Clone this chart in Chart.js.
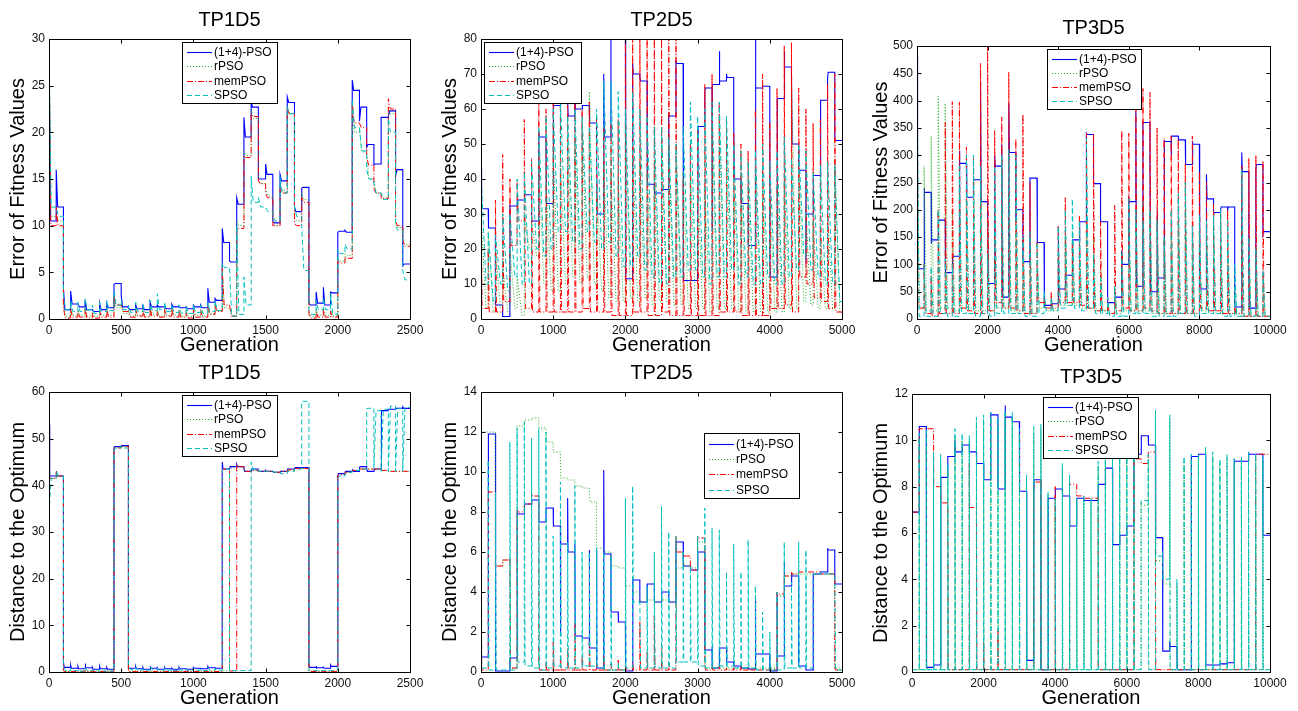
<!DOCTYPE html>
<html>
<head>
<meta charset="utf-8">
<script src="https://cdn.jsdelivr.net/npm/chart.js@4.4.0/dist/chart.umd.min.js"></script>
<style>
  body { margin: 0; background: #fff; width: 1298px; height: 711px; overflow: hidden; position: relative; }
  canvas { position: absolute; }
</style>
</head>
<body>
<canvas id="c1"></canvas><canvas id="c2"></canvas><canvas id="c3"></canvas>
<canvas id="c4"></canvas><canvas id="c5"></canvas><canvas id="c6"></canvas>
<script>
// series order: (1+4)-PSO, rPSO, memPSO, SPSO
const seriesNames = ["(1+4)-PSO", "rPSO", "memPSO", "SPSO"];

// environment change period (generations) for each test problem
const tp1Period = 50, tp2Period = 100, tp3Period = 200;

// tick labels
const tp1GenTicks = [0, 500, 1000, 1500, 2000, 2500];
const tp2GenTicks = [0, 1000, 2000, 3000, 4000, 5000];
const tp3GenTicks = [0, 2000, 4000, 6000, 8000, 10000];
const err1Ticks = [0, 5, 10, 15, 20, 25, 30];
const err2Ticks = [0, 10, 20, 30, 40, 50, 60, 70, 80];
const err3Ticks = [0, 50, 100, 150, 200, 250, 300, 350, 400, 450, 500];
const dist1Ticks = [0, 10, 20, 30, 40, 50, 60];
const dist2Ticks = [0, 2, 4, 6, 8, 10, 12, 14];
const dist3Ticks = [0, 2, 4, 6, 8, 10, 12];

// value at the start and at the end of each of the 50 environments

// ---- TP1D5 error ----
const err1Pso = [30, 16, 3.3, 3.0, 1.6, 2.0, 1.0, 1.7, 1.7, 3.7,
  2.5, 1.2, 1.5, 1.4, 1.8, 1.5, 1.4, 1.6, 1.4, 1.3,
  1.5, 1.5, 3.3, 2.2, 9.7, 6.2, 13.0, 21.6, 23.2, 15.0,
  16.6, 10.5, 15.5, 23.8, 12.0, 14.0, 1.7, 2.9, 3.4, 2.9,
  9.3, 9.5, 25.6, 21.2, 18.4, 16.5, 21.6, 21.7, 15.3, 5.7];
const err1PsoEnd = [10.5, 12, 1.0, 1.6, 1.3, 1.0, 0.8, 1.0, 1.2, 3.8,
  1.3, 1.0, 1.1, 1.0, 1.3, 1.3, 1.1, 1.3, 1.2, 1.1,
  1.3, 1.2, 1.8, 2.0, 8.2, 6.1, 12.3, 19.5, 22.7, 15.0,
  15.5, 10.3, 14.8, 23.2, 11.5, 14.1, 1.5, 1.7, 1.5, 2.8,
  9.4, 9.3, 24.5, 22.7, 18.7, 16.6, 21.6, 22.3, 16.0, 5.9];
const err1R = [29, 11, 1.5, 1.2, 1.0, 1.3, 0.8, 1.1, 1.2, 2.2,
  1.6, 1.0, 1.2, 1.1, 1.4, 1.0, 1.2, 1.3, 1.0, 0.9,
  1.1, 1.0, 1.5, 1.8, 5.0, 1.2, 10.5, 18.0, 22.5, 15.0,
  14.0, 10.5, 14.5, 22.8, 10.8, 13.5, 0.8, 1.0, 1.2, 1.0,
  6.5, 7.0, 22.8, 20.5, 17.8, 15.0, 13.5, 22.5, 10.2, 8.5];
const err1REnd = [11, 10.5, 0.3, 0.4, 0.4, 0.3, 0.3, 0.4, 0.4, 1.2,
  0.6, 0.3, 0.4, 0.3, 0.5, 0.3, 0.4, 0.4, 0.3, 0.3,
  0.4, 0.3, 0.6, 0.9, 1.2, 0.4, 10.0, 17.5, 21.5, 14.5,
  13.2, 10.0, 13.8, 22.0, 10.5, 12.8, 0.3, 0.4, 0.4, 0.3,
  6.2, 6.8, 20.0, 18.0, 15.0, 13.5, 13.0, 22.0, 9.8, 8.0];
const err1Mem = [30, 12, 1.2, 1.0, 0.8, 1.2, 0.6, 0.9, 1.0, 2.5,
  1.5, 0.8, 1.0, 0.9, 1.2, 0.8, 1.0, 1.1, 0.9, 0.8,
  1.0, 0.9, 1.2, 1.5, 5.5, 1.5, 9.8, 17.5, 22.0, 14.8,
  13.5, 10.0, 14.0, 22.5, 10.3, 13.0, 0.5, 0.8, 1.0, 0.8,
  6.2, 6.7, 23.3, 21.0, 17.5, 14.0, 12.9, 23.6, 10.5, 8.5];
const err1MemEnd = [10, 10, 0.1, 0.2, 0.2, 0.1, 0.1, 0.2, 0.2, 1.5,
  0.8, 0.2, 0.3, 0.2, 0.3, 0.2, 0.3, 0.2, 0.2, 0.1,
  0.2, 0.2, 0.5, 0.8, 1.5, 0.3, 9.7, 17.3, 21.7, 14.5,
  13.0, 10.0, 13.5, 22.0, 10.0, 12.5, 0.1, 0.2, 0.2, 0.2,
  6.0, 6.5, 21.0, 20.5, 16.5, 13.5, 12.9, 22.5, 10.0, 7.8];
const err1S = [30, 12, 2.5, 2.0, 1.8, 2.2, 1.5, 1.8, 2.0, 3.0,
  2.0, 1.5, 1.8, 1.6, 2.0, 2.7, 1.8, 1.6, 1.5, 1.4,
  1.6, 1.5, 1.8, 2.0, 6.0, 5.5, 10.0, 4.5, 15.3, 13.0,
  12.0, 11.0, 15.3, 22.7, 12.0, 10.0, 1.0, 2.0, 2.3, 2.8,
  7.5, 8.0, 23.5, 20.5, 16.0, 14.5, 13.5, 21.5, 10.0, 5.2];
const err1SEnd = [12, 11, 1.0, 0.8, 0.8, 1.0, 0.6, 0.8, 0.9, 1.5,
  1.0, 0.7, 0.8, 0.7, 0.9, 1.0, 0.8, 0.7, 0.6, 0.6,
  0.7, 0.6, 0.8, 0.9, 5.5, 0.3, 0.5, 1.5, 12.5, 12.0,
  11.5, 10.5, 13.5, 22.0, 11.0, 5.2, 0.5, 1.0, 1.0, 0.5,
  7.0, 7.5, 20.5, 18.0, 15.0, 13.5, 12.8, 20.0, 9.5, 4.2];

// ---- TP2D5 error ----
const err2Pso = [43, 26.5, 4, 0.7, 32.5, 32.5, 36, 28, 53.5, 49,
  60, 63, 62, 66, 61, 58, 47, 70, 85, 85,
  12, 73, 69, 41, 38, 36.5, 59, 74, 55, 11,
  28, 65, 25, 76.5, 70, 57, 36, 21, 80, 66.5,
  18, 12, 76.5, 70, 43, 16, 41, 62.5, 68.5, 51];
const err2PsoEnd = [31.5, 26, 4, 0.7, 32.3, 34, 35.5, 28, 52, 33,
  61, 62, 58, 60, 61, 56, 30, 52, 85, 85,
  11.5, 70, 68, 38.5, 36, 37, 58, 73, 11, 11,
  55, 66, 67, 68, 69, 40, 33, 21, 66, 66.5,
  12, 63, 72, 50, 42.5, 30, 41, 62.5, 70.5, 51];
const err2R = [30, 25, 20, 15, 20, 12, 30, 28, 45, 40,
  48, 45, 50, 52, 55, 65, 40, 45, 42, 40,
  55, 50, 45, 42, 45, 52, 50, 48, 42, 45,
  40, 38, 55, 58, 50, 42, 40, 38, 42, 40,
  35, 38, 40, 68, 45, 30, 28, 25, 30, 45];
const err2REnd = [3, 2, 3, 2, 3, 1, 20, 18, 10, 8,
  8, 10, 12, 10, 12, 10, 8, 6, 5, 5,
  6, 5, 6, 4, 5, 5, 4, 4, 3, 3,
  3, 2, 3, 3, 3, 2, 2, 2, 2, 2,
  2, 2, 3, 3, 5, 4, 3, 3, 3, 2];
const err2Mem = [40, 20, 34, 47, 40, 39.5, 57, 46, 62, 60,
  63, 62, 61, 62, 60, 62, 58, 55, 56, 57,
  85, 85, 85, 85, 85, 85, 85, 85, 40, 50,
  54, 67, 70, 62, 57, 53, 50, 48, 60, 70,
  56, 66, 78, 79, 66, 60, 56, 57, 67, 70];
const err2MemEnd = [3, 2, 2, 5, 21, 28, 3, 2, 2, 2,
  2, 2, 2, 2, 3, 2, 2, 2, 1, 1,
  1, 2, 2, 1, 1, 2, 1, 1, 1, 1,
  1, 1, 1, 2, 2, 2, 1, 1, 1, 1,
  3, 3, 4, 2, 12, 10, 6, 5, 3, 2];
const err2S = [42, 25, 24, 30, 30, 40, 42, 45, 55, 58,
  60, 62, 58, 60, 58, 55, 60, 68, 68, 65,
  60, 65, 60, 58, 55, 55, 52, 50, 55, 62,
  58, 60, 62, 62, 58, 50, 48, 45, 48, 50,
  45, 48, 52, 46, 50, 48, 42, 44, 45, 44];
const err2SEnd = [10, 5, 10, 8, 12, 10, 10, 20, 18, 20,
  25, 25, 22, 20, 25, 22, 20, 22, 18, 15,
  15, 18, 14, 12, 10, 10, 12, 12, 14, 14,
  12, 10, 12, 12, 14, 10, 12, 10, 10, 12,
  10, 10, 12, 14, 18, 14, 12, 10, 10, 5];

// ---- TP3D5 error ----
const err3Pso = [480, 240, 138, 183, 85, 115, 308, 285, 255, 435,
  210, 300, 320, 395, 180, 110, 258, 140, 20, 28,
  165, 70, 145, 178, 340, 248, 178, 30, 40, 125,
  220, 380, 360, 285, 200, 328, 300, 328, 283, 325,
  90, 265, 190, 200, 200, 25, 305, 80, 275, 155];
const err3PsoEnd = [92, 232, 145, 181, 85, 115, 285, 223, 255, 215,
  65, 280, 40, 305, 200, 105, 258, 140, 25, 28,
  55, 80, 145, 178, 338, 248, 178, 30, 40, 100,
  215, 60, 360, 50, 75, 325, 335, 328, 283, 320,
  55, 220, 195, 205, 205, 22, 270, 20, 283, 160];
const err3R = [350, 280, 335, 408, 395, 200, 250, 220, 200, 250,
  180, 150, 200, 220, 180, 120, 100, 90, 40, 40,
  120, 150, 160, 140, 200, 150, 100, 30, 60, 100,
  180, 200, 220, 200, 180, 150, 160, 180, 200, 150,
  160, 150, 140, 130, 120, 60, 150, 100, 120, 80];
const err3REnd = [20, 15, 15, 20, 20, 15, 20, 20, 15, 15,
  15, 20, 20, 15, 15, 10, 10, 20, 15, 15,
  25, 25, 25, 20, 20, 15, 15, 10, 10, 15,
  15, 15, 15, 10, 10, 10, 10, 10, 10, 10,
  15, 10, 10, 10, 10, 5, 5, 5, 5, 5];
const err3Mem = [500, 100, 80, 200, 360, 398, 397, 315, 300, 468,
  500, 345, 370, 452, 330, 375, 250, 140, 40, 50,
  170, 222, 140, 190, 340, 340, 178, 40, 208, 345,
  340, 405, 422, 415, 350, 330, 335, 330, 285, 335,
  270, 250, 210, 200, 200, 25, 280, 295, 300, 290];
const err3MemEnd = [20, 10, 5, 10, 10, 10, 20, 15, 10, 10,
  15, 30, 20, 20, 15, 10, 10, 30, 20, 20,
  30, 30, 30, 25, 20, 15, 15, 10, 15, 20,
  15, 15, 20, 15, 10, 10, 10, 10, 10, 10,
  20, 15, 15, 10, 10, 10, 5, 5, 5, 5];
const err3S = [480, 100, 95, 200, 110, 100, 280, 300, 300, 280,
  120, 280, 300, 310, 300, 150, 160, 140, 50, 40,
  170, 200, 220, 180, 330, 120, 80, 40, 60, 120,
  220, 200, 180, 200, 180, 150, 200, 230, 250, 170,
  190, 180, 190, 200, 180, 100, 275, 150, 130, 90];
const err3SEnd = [5, 5, 5, 10, 5, 5, 10, 10, 5, 10,
  5, 10, 10, 10, 10, 5, 5, 10, 15, 15,
  20, 25, 20, 15, 20, 10, 10, 5, 5, 5,
  10, 10, 10, 5, 5, 5, 5, 10, 10, 5,
  10, 10, 10, 5, 5, 5, 5, 5, 5, 5];

// ---- TP1D5 distance ----
const dist1Pso = [53, 43, 2.2, 1.5, 1.2, 1.8, 1.0, 1.2, 1.0, 48,
  48.7, 1.0, 1.2, 1.0, 1.3, 0.9, 1.0, 0.8, 1.0, 0.7,
  1.0, 0.8, 1.2, 1.0, 45, 43.5, 44.5, 43.5, 43, 43,
  43.2, 43, 42.8, 43, 43.5, 43.8, 1.5, 1.3, 1.0, 1.5,
  42, 43, 43.5, 43.8, 43.5, 43, 56, 56.3, 56.5, 56.8];
const dist1PsoEnd = [42, 42, 1.0, 0.8, 0.7, 0.9, 0.6, 0.7, 0.6, 48.3,
  48.5, 0.8, 0.7, 0.6, 0.8, 0.6, 0.7, 0.6, 0.7, 0.6,
  0.8, 0.7, 0.9, 0.8, 43.5, 44, 44, 43, 43.5, 43,
  43, 42.8, 43, 43.5, 43.8, 43.8, 1.0, 0.9, 0.8, 1.2,
  42.5, 43, 43, 44, 43, 43.5, 56, 56.3, 56.5, 56.5];
const dist1R = [46, 43, 0.4, 0.3, 0.3, 0.4, 0.3, 0.3, 0.3, 48,
  48.4, 0.3, 0.3, 0.3, 0.3, 0.3, 0.3, 0.3, 0.3, 0.3,
  0.3, 0.3, 0.3, 0.3, 0.3, 43.7, 44.3, 43.5, 43, 43,
  43.2, 43, 42.8, 43, 43.5, 43.8, 0.3, 0.3, 0.3, 0.3,
  41.8, 42.8, 43.2, 43.5, 43.5, 43.5, 43.2, 43, 43, 43];
const dist1REnd = [41.5, 42, 0.2, 0.2, 0.2, 0.2, 0.2, 0.2, 0.2, 48.2,
  48.3, 0.2, 0.2, 0.2, 0.2, 0.2, 0.2, 0.2, 0.2, 0.2,
  0.2, 0.2, 0.2, 0.2, 0.3, 43.7, 44, 43, 43.2, 43,
  43, 42.8, 43, 43.3, 43.6, 43.6, 0.2, 0.2, 0.2, 0.2,
  42.3, 42.8, 43.2, 43.5, 43.5, 43.5, 43.2, 43, 43, 43];
const dist1Mem = [47, 43, 0.3, 0.2, 0.2, 0.3, 0.2, 0.2, 0.2, 48,
  48.5, 0.2, 0.2, 0.2, 0.2, 0.2, 0.2, 0.2, 0.2, 0.2,
  0.2, 0.2, 0.2, 0.2, 43.5, 0.3, 44.5, 43.5, 43, 43,
  43.2, 43, 42.8, 43, 43.5, 43.8, 0.2, 0.2, 0.2, 0.2,
  41.8, 42.8, 43.2, 43.5, 43.5, 43.5, 43.2, 43, 43, 43];
const dist1MemEnd = [41.5, 42, 0.1, 0.1, 0.1, 0.1, 0.1, 0.1, 0.1, 48,
  48.3, 0.1, 0.1, 0.1, 0.1, 0.1, 0.1, 0.1, 0.1, 0.1,
  0.1, 0.1, 0.1, 0.1, 43.5, 0.2, 44, 43, 43.2, 43,
  43, 42.8, 43, 43.3, 43.6, 43.6, 0.1, 0.1, 0.1, 0.1,
  42.3, 42.8, 43.2, 43.5, 43.5, 43.5, 43.2, 43, 43, 43];
const dist1S = [34, 43, 1.0, 0.8, 0.6, 0.9, 0.5, 0.6, 0.5, 47.5,
  48.5, 1.2, 1.0, 0.8, 1.2, 0.8, 0.9, 0.7, 0.8, 0.6,
  0.9, 0.7, 1.0, 0.8, 43.5, 0.3, 0.3, 0.3, 45, 43,
  43, 43, 42.5, 43, 43.5, 58, 0.3, 0.3, 0.3, 0.3,
  41.5, 42.5, 43, 43.5, 56.5, 43.5, 43, 43, 43, 43];
const dist1SEnd = [41.5, 42, 0.3, 0.3, 0.2, 0.3, 0.2, 0.2, 0.2, 48,
  48, 0.5, 0.4, 0.4, 0.5, 0.4, 0.4, 0.3, 0.4, 0.3,
  0.4, 0.3, 0.4, 0.4, 43.5, 0.3, 0.3, 0.3, 43.5, 43,
  43, 42.8, 42.5, 43, 43.5, 58, 0.3, 0.3, 0.3, 0.3,
  42, 42.8, 43.2, 43.5, 56.5, 56, 56.3, 57, 56.5, 56.7];

// ---- TP2D5 distance ----
const dist2Pso = [4, 11.9, 0.05, 0.05, 0.7, 8.1, 8.4, 8.6, 7.6, 8.2,
  7.3, 1.8, 8.7, 6.4, 1.7, 6.1, 6.1, 10.1, 3.1, 2.5,
  0.05, 4.7, 3.5, 4.4, 3.5, 4.0, 3.5, 6.0, 6.0, 5.2,
  6.0, 1.1, 1.3, 1.2, 0.7, 0.3, 0.2, 0.15, 3.7, 0.9,
  0.05, 4.0, 5.5, 4.9, 0.35, 0.1, 4.9, 5.0, 6.2, 4.4];
const dist2PsoEnd = [0.75, 11.9, 0.05, 0.05, 0.7, 7.9, 8.4, 8.6, 7.5, 8.2,
  7.3, 6.4, 6.0, 1.8, 1.7, 1.2, 0.2, 5.9, 3.0, 2.5,
  0.05, 4.6, 3.5, 4.4, 3.5, 4.0, 3.5, 6.5, 5.3, 5.1,
  6.0, 1.1, 0.2, 1.2, 0.5, 0.3, 0.2, 0.15, 0.9, 0.9,
  0.05, 0.8, 4.3, 4.8, 0.3, 0.1, 4.9, 5.0, 6.1, 4.4];
const dist2R = [12.2, 12, 5.3, 5.6, 0.3, 12.3, 12.6, 12.7, 12.3, 12,
  11, 9.7, 9.6, 9.3, 9.2, 9, 6.3, 6, 5.5, 5.2,
  4.5, 4.2, 3.5, 3.8, 3.6, 3.8, 3.5, 5.2, 6.0, 5.3,
  6.5, 0.3, 0.3, 0.3, 0.3, 0.3, 0.3, 0.3, 0.3, 0.3,
  0.3, 3.8, 4.5, 4.9, 4.9, 4.9, 4.9, 4.9, 4.9, 0.3];
const dist2REnd = [12, 12, 5.3, 5.6, 0.2, 12.3, 12.6, 12.7, 12.2, 11.5,
  11, 9.7, 9.6, 9.3, 9.2, 8.5, 6.2, 6, 5.3, 5.2,
  4.3, 4, 3.5, 3.6, 3.5, 3.6, 3.5, 5.2, 5.3, 5.2,
  6.5, 0.2, 0.2, 0.2, 0.2, 0.2, 0.2, 0.2, 0.2, 0.2,
  0.2, 3.8, 4.8, 4.9, 4.9, 4.9, 4.9, 4.9, 4.9, 0.2];
const dist2Mem = [5.8, 9.0, 5.2, 5.6, 5.7, 8.2, 8.4, 9.0, 0.3, 0.5,
  1.5, 0.8, 1.2, 2.5, 0.8, 1.5, 0.5, 0.8, 0.4, 0.6,
  0.3, 0.5, 2.5, 1.0, 2.8, 1.5, 0.5, 6.8, 6.0, 5.3,
  6.8, 0.3, 0.2, 0.3, 0.2, 0.2, 0.3, 0.2, 0.2, 0.2,
  0.2, 4.0, 4.9, 5.0, 5.0, 5.0, 5.0, 5.0, 4.9, 0.2];
const dist2MemEnd = [0.1, 9.0, 5.3, 5.6, 0.2, 8.0, 8.4, 8.8, 0.1, 0.1,
  0.1, 0.1, 0.1, 0.1, 0.1, 0.1, 0.1, 0.1, 0.1, 0.1,
  0.1, 0.1, 0.1, 0.1, 0.1, 0.1, 0.1, 6.0, 5.8, 5.1,
  6.7, 0.1, 0.1, 0.1, 0.1, 0.1, 0.1, 0.1, 0.1, 0.1,
  0.1, 3.9, 4.8, 4.9, 5.0, 5.0, 5.0, 4.9, 4.9, 0.1];
const dist2S = [13, 10.6, 9, 0.1, 11.5, 12.2, 12.5, 11.7, 12.2, 12,
  6.8, 9.5, 6.5, 9.3, 6, 6, 6.2, 6, 5.8, 0.5,
  8.7, 9.3, 3.5, 4.3, 6, 8.3, 7, 6.8, 6, 5.3,
  6.8, 8.2, 7.2, 7.1, 5, 6.4, 5, 6.6, 4.3, 3,
  2, 4, 6.5, 4.5, 6.5, 6.1, 4.9, 5, 5, 4.9];
const dist2SEnd = [0.2, 0.1, 0.1, 0.1, 0.1, 0.5, 0.3, 0.2, 0.1, 0.2,
  0.3, 0.2, 0.2, 0.2, 0.3, 0.3, 0.2, 0.1, 0.1, 0.1,
  0.2, 3.5, 0.2, 0.2, 0.2, 0.2, 0.2, 0.5, 0.5, 0.5,
  0.3, 0.2, 0.2, 0.3, 0.3, 0.2, 0.2, 0.2, 0.1, 0.1,
  0.1, 0.1, 0.2, 0.2, 0.2, 0.2, 4.9, 4.9, 4.9, 0.1];

// ---- TP3D5 distance ----
const dist3Pso = [0.1, 10.6, 0.2, 0.3, 8.4, 9.3, 10.0, 9.8, 9.5, 9.1,
  8.3, 11.2, 8.0, 11.5, 10.8, 7.8, 0.5, 7.7, 0.1, 7.5,
  7.9, 7.6, 6.3, 7.5, 7.5, 7.4, 8.1, 8.8, 5.5, 5.9,
  6.3, 9.4, 9.9, 9.8, 5.8, 0.9, 1.3, 1.1, 0.1, 9.3,
  9.4, 0.4, 0.3, 0.35, 0.4, 9.2, 9.1, 9.5, 9.4, 6.0];
const dist3PsoEnd = [6.9, 10.6, 0.2, 0.3, 8.4, 9.3, 9.5, 9.8, 9.5, 9.0,
  8.3, 11.1, 7.9, 11.0, 10.8, 7.8, 0.5, 8.3, 0.1, 7.5,
  7.9, 7.6, 6.3, 7.5, 7.4, 7.4, 8.1, 8.8, 5.5, 5.9,
  6.3, 9.4, 10.2, 9.8, 5.8, 0.9, 1.1, 0.1, 0.1, 9.3,
  9.4, 0.3, 0.3, 0.35, 0.4, 9.1, 9.1, 9.4, 9.4, 5.9];
const dist3R = [11, 10, 10.2, 9.2, 9.0, 8.8, 10.2, 10, 10, 10.8,
  10.9, 11, 10.8, 11.1, 11, 10.3, 8.2, 10.3, 10.5, 7.6,
  7.4, 8.8, 8.3, 7.4, 7.5, 7.4, 8.9, 9.5, 9.3, 9.6,
  9.6, 9.3, 7.3, 9.2, 11.1, 5.0, 10.9, 3.8, 9.1, 9.2,
  9.2, 9.5, 9.3, 9.0, 9.2, 9.0, 9.1, 9.3, 9.2, 9.1];
const dist3REnd = [0.1, 0.1, 0.1, 0.1, 0.1, 0.1, 0.1, 0.1, 0.1, 0.1,
  0.1, 0.1, 0.1, 0.1, 0.1, 0.1, 0.1, 0.1, 0.1, 0.1,
  0.1, 0.1, 0.1, 0.1, 0.1, 0.1, 0.1, 0.1, 0.1, 0.1,
  0.1, 0.1, 7.2, 0.1, 4.8, 3.8, 0.1, 0.1, 0.1, 0.1,
  0.1, 0.1, 0.1, 0.1, 0.1, 0.1, 0.1, 0.1, 0.1, 0.1];
const dist3Mem = [6.9, 10.5, 10.5, 10.4, 7.9, 7.3, 0.2, 0.2, 9.0, 7.1,
  1.3, 0.2, 1.8, 0.2, 0.2, 0.2, 0.2, 8.2, 8.3, 0.2,
  8.0, 0.2, 8.1, 7.6, 7.5, 7.5, 0.2, 0.2, 0.2, 0.2,
  0.2, 9.2, 9.2, 9.5, 3.8, 0.1, 0.1, 0.1, 0.1, 0.1,
  0.1, 0.1, 0.1, 0.1, 0.1, 0.1, 0.1, 0.1, 9.4, 9.4];
const dist3MemEnd = [6.9, 10.5, 10.5, 8.0, 7.3, 0.1, 0.1, 0.1, 7.1, 0.1,
  0.1, 0.1, 0.1, 0.1, 0.1, 0.1, 0.1, 8.2, 0.1, 0.1,
  0.1, 0.1, 8.1, 7.6, 7.5, 7.5, 0.1, 0.1, 0.1, 0.1,
  0.1, 9.2, 9.0, 9.5, 0.1, 0.1, 0.1, 0.1, 0.1, 0.1,
  0.1, 0.1, 0.1, 0.1, 0.1, 0.1, 0.1, 0.1, 9.4, 9.4];
const dist3S = [11.5, 10.3, 10.5, 9.5, 9.4, 9.0, 10.5, 10.3, 10.2, 11.0,
  11.1, 11.2, 11.0, 11.3, 11.2, 10.5, 8.5, 10.6, 10.7, 7.8,
  7.5, 9.0, 8.5, 7.5, 7.6, 7.5, 9.1, 9.7, 9.5, 9.8,
  9.8, 9.5, 7.4, 9.4, 11.3, 5.2, 11.1, 4.0, 9.3, 9.4,
  9.4, 9.7, 9.5, 9.2, 9.4, 9.2, 9.3, 9.5, 9.4, 9.3];
const dist3SEnd = [0.1, 0.1, 0.1, 0.1, 0.1, 0.1, 0.1, 0.1, 0.1, 0.1,
  0.1, 0.1, 0.1, 0.1, 0.1, 0.1, 0.1, 0.1, 0.1, 0.1,
  0.1, 0.1, 0.1, 0.1, 0.1, 0.1, 0.1, 0.1, 0.1, 0.1,
  0.1, 0.1, 7.4, 0.1, 5.0, 4.0, 0.1, 0.1, 0.1, 0.1,
  0.1, 0.1, 0.1, 0.1, 0.1, 0.1, 0.1, 0.1, 0.1, 0.1];

// line styles, same order as seriesNames; later series are drawn on top
const lineStyles = [
  { color: "#0000ff", dash: [], width: 1.1, order: 3 },
  { color: "#22aa22", dash: [1, 2], width: 1, order: 2 },
  { color: "#ff0000", dash: [6, 2, 1, 2], width: 1, order: 1 },
  { color: "#00bfbf", dash: [5, 3], width: 1, order: 0 }
];

const FONT = '"Liberation Sans", Arial, Helvetica, sans-serif';

// each environment: start value, fast settle to the end value, hold
function envPoints(period, start, end, settle) {
  const pts = [];
  start.forEach((v, k) => {
    const t0 = k * period;
    pts.push({ x: t0, y: v });
    pts.push({ x: t0 + settle * period, y: end[k] });
    pts.push({ x: t0 + period, y: end[k] });
  });
  return pts;
}

const framePlugin = {
  id: "frame",
  afterDatasetsDraw(chart, args, opts) {
    const { ctx, chartArea: a } = chart;
    const xs = chart.scales.x, ys = chart.scales.y;
    ctx.save();
    ctx.strokeStyle = "#000";
    ctx.lineWidth = 1;
    ctx.setLineDash([]);
    const L = Math.round(a.left) + 0.5, R = Math.round(a.right) + 0.5;
    const T = Math.round(a.top) + 0.5, B = Math.round(a.bottom) + 0.5;
    ctx.strokeRect(L, T, R - L, B - T);
    ctx.beginPath();
    xs.ticks.forEach(t => {
      const p = Math.round(xs.getPixelForValue(t.value)) + 0.5;
      ctx.moveTo(p, B); ctx.lineTo(p, B - 4);
      ctx.moveTo(p, T); ctx.lineTo(p, T + 4);
    });
    ys.ticks.forEach(t => {
      const p = Math.round(ys.getPixelForValue(t.value)) + 0.5;
      ctx.moveTo(L, p); ctx.lineTo(L + 4, p);
      ctx.moveTo(R, p); ctx.lineTo(R - 4, p);
    });
    ctx.stroke();

    // title
    ctx.fillStyle = "#000";
    ctx.font = "20px " + FONT;
    ctx.textAlign = "center";
    ctx.textBaseline = "middle";
    ctx.fillText(opts.title, (a.left + a.right) / 2, opts.titleY);

    // legend box
    const [bx, by, bw, bh] = opts.box;
    ctx.fillStyle = "#fff";
    ctx.fillRect(bx, by, bw, bh);
    ctx.strokeStyle = "#000";
    ctx.strokeRect(bx + 0.5, by + 0.5, bw, bh);
    ctx.font = "12px " + FONT;
    ctx.textAlign = "left";
    seriesNames.forEach((name, i) => {
      const st = lineStyles[i];
      const yy = Math.round(by + bh * (0.165 + i * 0.235)) + 0.5;
      ctx.beginPath();
      ctx.strokeStyle = st.color;
      ctx.lineWidth = st.width;
      ctx.setLineDash(st.dash);
      ctx.moveTo(bx + 5, yy);
      ctx.lineTo(bx + 30, yy);
      ctx.stroke();
      ctx.fillStyle = "#000";
      ctx.fillText(name, bx + 32, yy);
    });
    ctx.restore();
  }
};

function makePanel(p) {
  const cv = document.getElementById(p.id);
  cv.width = p.w; cv.height = p.h;
  cv.style.left = p.left + "px"; cv.style.top = p.top + "px";
  const [pl, pt, pr, pb] = p.plot;

  const datasets = p.series.map((s, i) => ({
    label: seriesNames[i],
    data: envPoints(p.period, s[0], s[1], p.settle[i]),
    borderColor: lineStyles[i].color,
    borderWidth: lineStyles[i].width,
    borderDash: lineStyles[i].dash,
    order: lineStyles[i].order,
    pointRadius: 0,
    fill: false,
    tension: 0
  }));

  new Chart(cv, {
    type: "line",
    data: { datasets },
    options: {
      responsive: false,
      animation: false,
      devicePixelRatio: 1,
      events: [],
      layout: { padding: { top: pt, right: p.w - pr, left: 0, bottom: 0 } },
      plugins: {
        legend: { display: false },
        tooltip: { enabled: false },
        frame: { title: p.title, titleY: p.titleY, box: p.box }
      },
      scales: {
        x: {
          type: "linear",
          min: 0, max: p.xTicks[p.xTicks.length - 1],
          grid: { display: false, drawTicks: false },
          border: { display: false },
          afterBuildTicks: s => { s.ticks = p.xTicks.map(v => ({ value: v })); },
          afterFit: s => { s.height = p.h - pb; },
          ticks: { autoSkip: false, maxRotation: 0, padding: 4, color: "#111",
                   font: { size: 12, family: FONT }, callback: v => String(v) },
          title: { display: true, text: "Generation", color: "#000",
                   font: { size: 20, family: FONT }, padding: { top: 0, bottom: p.xTitlePad } }
        },
        y: {
          type: "linear",
          min: 0, max: p.yTicks[p.yTicks.length - 1],
          grid: { display: false, drawTicks: false },
          border: { display: false },
          afterBuildTicks: s => { s.ticks = p.yTicks.map(v => ({ value: v })); },
          afterFit: s => { s.width = pl; },
          ticks: { autoSkip: false, padding: 4, color: "#111",
                   font: { size: 12, family: FONT }, callback: v => String(v) },
          title: { display: true, text: p.ylabel, color: "#000",
                   font: { size: 20, family: FONT }, padding: { top: p.yTitlePad, bottom: 0 } }
        }
      }
    },
    plugins: [framePlugin]
  });
}

const panels = [
  { id: "c1", left: 0, top: 0, w: 430, h: 355, plot: [49, 39, 410, 319], title: "TP1D5", titleY: 20,
    ylabel: "Error of Fitness Values", yTitlePad: 6, xTitlePad: -2, xTicks: tp1GenTicks, yTicks: err1Ticks,
    period: tp1Period, settle: [0.2, 0.3, 0.25, 0.3], box: [182, 42, 95, 61],
    series: [[err1Pso, err1PsoEnd], [err1R, err1REnd], [err1Mem, err1MemEnd], [err1S, err1SEnd]] },
  { id: "c2", left: 430, top: 0, w: 430, h: 355, plot: [51, 39, 412, 319], title: "TP2D5", titleY: 20,
    ylabel: "Error of Fitness Values", yTitlePad: 8, xTitlePad: -2, xTicks: tp2GenTicks, yTicks: err2Ticks,
    period: tp2Period, settle: [0.08, 0.7, 0.15, 0.7], box: [54, 42, 97, 61],
    series: [[err2Pso, err2PsoEnd], [err2R, err2REnd], [err2Mem, err2MemEnd], [err2S, err2SEnd]] },
  { id: "c3", left: 860, top: 0, w: 438, h: 355, plot: [57, 46, 410, 319], title: "TP3D5", titleY: 28,
    ylabel: "Error of Fitness Values", yTitlePad: 9, xTitlePad: -2, xTicks: tp3GenTicks, yTicks: err3Ticks,
    period: tp3Period, settle: [0.08, 0.35, 0.15, 0.3], box: [187, 49, 94, 60],
    series: [[err3Pso, err3PsoEnd], [err3R, err3REnd], [err3Mem, err3MemEnd], [err3S, err3SEnd]] },
  { id: "c4", left: 0, top: 355, w: 430, h: 356, plot: [49, 37, 410, 317], title: "TP1D5", titleY: 18,
    ylabel: "Distance to the Optimum", yTitlePad: 6, xTitlePad: 1, xTicks: tp1GenTicks, yTicks: dist1Ticks,
    period: tp1Period, settle: [0.1, 0.1, 0.1, 0.3], box: [182, 40, 95, 61],
    series: [[dist1Pso, dist1PsoEnd], [dist1R, dist1REnd], [dist1Mem, dist1MemEnd], [dist1S, dist1SEnd]] },
  { id: "c5", left: 430, top: 355, w: 430, h: 356, plot: [51, 37, 412, 317], title: "TP2D5", titleY: 18,
    ylabel: "Distance to the Optimum", yTitlePad: 8, xTitlePad: 1, xTicks: tp2GenTicks, yTicks: dist2Ticks,
    period: tp2Period, settle: [0.05, 0.1, 0.1, 0.1], box: [274, 78, 95, 65],
    series: [[dist2Pso, dist2PsoEnd], [dist2R, dist2REnd], [dist2Mem, dist2MemEnd], [dist2S, dist2SEnd]] },
  { id: "c6", left: 860, top: 355, w: 438, h: 356, plot: [52, 39, 410, 317], title: "TP3D5", titleY: 22,
    ylabel: "Distance to the Optimum", yTitlePad: 9, xTitlePad: 1, xTicks: tp3GenTicks, yTicks: dist3Ticks,
    period: tp3Period, settle: [0.05, 0.06, 0.05, 0.05], box: [183, 42, 95, 61],
    series: [[dist3Pso, dist3PsoEnd], [dist3R, dist3REnd], [dist3Mem, dist3MemEnd], [dist3S, dist3SEnd]] }
];

panels.forEach(makePanel);
</script>
</body>
</html>
